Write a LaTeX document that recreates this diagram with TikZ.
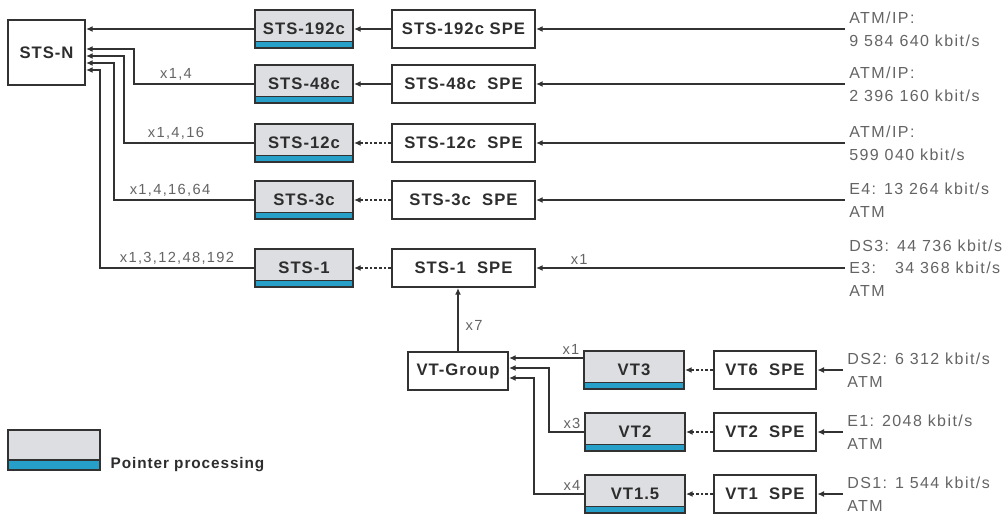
\documentclass[tikz,border=0pt]{standalone}
\usepackage{fontspec}
\setmainfont{Liberation Sans}
\newfontfamily\boxfont{Liberation Sans}[LetterSpace=6]
\newfontfamily\lblfont{Liberation Sans}[LetterSpace=9]
\usepackage{xcolor}
\definecolor{ptrgray}{RGB}{221,222,225}
\definecolor{ptrblue}{RGB}{38,160,200}
\definecolor{linegray}{RGB}{50,50,50}
\definecolor{textdark}{RGB}{45,45,45}
\definecolor{lblgray}{RGB}{100,100,100}
\usetikzlibrary{arrows.meta}
\tikzset{band height/.initial=5pt}

\begin{document}
\begin{tikzpicture}[
  x=0.75pt, y=-0.75pt,
  box/.style={draw=linegray, line width=1.5pt, fill=white, inner sep=0pt,
    minimum width=107.25pt, minimum height=28.5pt, text=textdark,
    font=\boxfont\bfseries\fontsize{12.5}{14}\selectfont},
  ptr/.style={box, fill=ptrgray, minimum width=73.5pt,
    path picture={
      \fill[ptrblue] (path picture bounding box.south west)
        rectangle ([yshift=\pgfkeysvalueof{/tikz/band height}]path picture bounding box.south east);
      \draw[linegray, line width=.8pt]
        ([yshift=\pgfkeysvalueof{/tikz/band height}]path picture bounding box.south west)
        -- ([yshift=\pgfkeysvalueof{/tikz/band height}]path picture bounding box.south east);
    }},
  arr/.style={draw=linegray, line width=1.5pt, -{Latex[length=5pt,width=4.5pt]}},
  dots/.style={arr, dash pattern=on 2pt off 1.5pt},
  lbl/.style={text=lblgray, inner sep=2pt, font=\lblfont\fontsize{11}{13}\selectfont},
  rate/.style={text=lblgray, align=left, inner xsep=3pt, inner ysep=0pt,
    font=\lblfont\fontsize{12}{17}\selectfont},
]
\useasboundingbox (0,0) rectangle (1007,515);

% STS path
\node[box, minimum width=57.75pt, minimum height=48.75pt] (stsn) at (46.5,52.5) {STS-N};
\node[ptr] (sts192) at (304,29) {STS-192c};
\node[ptr] (sts48) at (304,84) {STS-48c};
\node[ptr] (sts12) at (304,143) {STS-12c};
\node[ptr] (sts3) at (304,200) {STS-3c};
\node[ptr] (sts1) at (304,268) {STS-1};
\node[box] (spe192) at (463.5,29) {STS-192c SPE};
\node[box] (spe48) at (463.5,84) {STS-48c~ SPE};
\node[box] (spe12) at (463.5,143) {STS-12c~ SPE};
\node[box] (spe3) at (463.5,200) {STS-3c~ SPE};
\node[box] (spe1) at (463.5,268) {STS-1~ SPE};

\node[rate, anchor=west] (r192) at (845,29) {ATM/IP:\\9 584 640 kbit/s};
\node[rate, anchor=west] (r48) at (845,84) {ATM/IP:\\2 396 160 kbit/s};
\node[rate, anchor=west] (r12) at (845,143) {ATM/IP:\\599 040 kbit/s};
\node[rate, anchor=west] (r3) at (845,200) {E4: 13 264 kbit/s\\ATM};
\node[rate, anchor=west] (r1) at (845,268) {DS3: 44 736 kbit/s\\\rlap{E3:}\phantom{DS3:} 34 368 kbit/s\\ATM};

\path (stsn.north east) ++(0,10) coordinate (p192) ++(0,20) coordinate (p48)
  ++(0,7) coordinate (p12) ++(0,7) coordinate (p3) ++(0,7) coordinate (p1);

\draw[arr] (sts192.west |- p192) -- (p192);
\draw[arr] (sts48.west) -- node[lbl, above, pos=.65] {x1,4} ++(-120,0) |- (p48);
\draw[arr] (sts12.west) -- node[lbl, above, pos=.6] {x1,4,16} ++(-130,0) |- (p12);
\draw[arr] (sts3.west) -- node[lbl, above, pos=.6] {x1,4,16,64} ++(-140,0) |- (p3);
\draw[arr] (sts1.west) -- node[lbl, above, pos=.5] {x1,3,12,48,192} ++(-154,0) |- (p1);

\draw[arr] (spe192) -- (sts192);
\draw[arr] (spe48) -- (sts48);
\draw[dots] (spe12) -- (sts12);
\draw[dots] (spe3) -- (sts3);
\draw[dots] (spe1) -- (sts1);

\draw[arr] (r192) -- (spe192);
\draw[arr] (r48) -- (spe48);
\draw[arr] (r12) -- (spe12);
\draw[arr] (r3) -- (spe3);
\draw[arr] (r1) -- node[lbl, above, pos=.86] {x1} (spe1);

% VT path
\node[box, minimum width=75pt] (vtg) at (458,371) {VT-Group};
\node[ptr, minimum width=75pt] (vt3) at (634,370) {VT3};
\node[ptr, minimum width=75pt] (vt2) at (635,432) {VT2};
\node[ptr, minimum width=75pt] (vt15) at (635,494) {VT1.5};
\node[box, minimum width=77pt] (vt6spe) at (765,370) {VT6~ SPE};
\node[box, minimum width=77pt] (vt2spe) at (765,432) {VT2~ SPE};
\node[box, minimum width=77pt] (vt1spe) at (765,494) {VT1~ SPE};

\node[rate, anchor=west] (rds2) at (843,370) {DS2: 6 312 kbit/s\\ATM};
\node[rate, anchor=west] (re1) at (843,432) {E1: 2048 kbit/s\\ATM};
\node[rate, anchor=west] (rds1) at (843,494) {DS1: 1 544 kbit/s\\ATM};

\path (vtg.north east) ++(0,7) coordinate (q3) ++(0,10) coordinate (q2) ++(0,10) coordinate (q1);

\draw[arr] (vtg) -- node[lbl, right=3pt, pos=.4] {x7} (vtg |- spe1.south);
\draw[arr] (vt3.west |- q3) node[lbl, above left] {x1} -- (q3);
\draw[arr] (vt2.west) node[lbl, above left] {x3} -- ++(-35,0) |- (q2);
\draw[arr] (vt15.west) node[lbl, above left] {x4} -- ++(-50,0) |- (q1);

\draw[dots] (vt6spe) -- (vt3);
\draw[dots] (vt2spe) -- (vt2);
\draw[dots] (vt1spe) -- (vt15);

\draw[arr] (rds2) -- (vt6spe);
\draw[arr] (re1) -- (vt2spe);
\draw[arr] (rds1) -- (vt1spe);

% legend
\node[ptr, minimum width=69pt, minimum height=30pt, band height=7.5pt] (legend) at (54,450) {};
\node[anchor=base west, text=textdark, font=\boxfont\bfseries\fontsize{11.5}{13}\selectfont]
  (legendtxt) at (106,468) {Pointer processing};
\end{tikzpicture}
\end{document}
